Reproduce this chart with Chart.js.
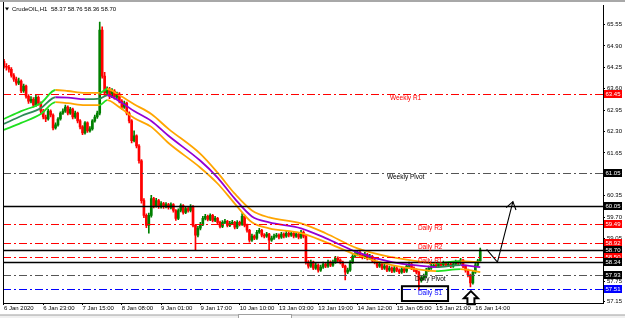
<!DOCTYPE html>
<html><head><meta charset="utf-8">
<script src="https://cdn.jsdelivr.net/npm/chart.js@4.4.1/dist/chart.umd.min.js"></script>
<style>html,body{margin:0;padding:0;background:#fff;overflow:hidden}</style>
</head><body>
<canvas id="c" width="625" height="318" style="display:block"></canvas>
<script>
// ---------- DATA ----------
const symbolName = "CrudeOIL,H1";
const opens = [
64.43,64.28,64.25,64.19,64.00,63.89,63.77,63.83,63.53,63.68,
63.37,63.22,63.28,63.10,63.34,63.16,62.92,62.74,62.68,62.92,
62.80,62.41,62.50,62.68,62.86,62.92,63.04,62.86,62.98,62.74,
62.86,62.62,62.44,62.26,62.56,62.32,62.38,62.62,62.74,62.86,
65.38,63.98,63.47,63.59,63.37,63.53,63.34,63.44,63.22,63.04,
63.16,62.86,62.62,62.02,62.17,61.86,61.41,60.20,59.75,59.45,
59.75,60.26,60.05,60.20,60.02,60.11,60.02,60.08,59.99,60.08,
59.90,59.66,59.90,60.05,59.84,59.96,59.90,60.02,59.45,59.15,
59.36,59.48,59.66,59.72,59.63,59.75,59.60,59.66,59.54,59.42,
59.54,59.57,59.45,59.51,59.54,59.39,59.54,59.48,59.72,59.45,
59.30,59.00,59.12,59.06,59.24,59.30,59.15,59.12,59.18,59.00,
59.06,59.12,59.15,59.09,59.18,59.12,59.21,59.15,59.21,59.12,
59.18,59.09,59.24,59.12,58.33,58.21,58.33,58.15,58.24,58.09,
58.18,58.27,58.21,58.33,58.24,58.33,58.45,58.39,58.33,58.21,
58.03,58.09,58.33,58.51,58.57,58.63,58.54,58.48,58.57,58.45,
58.51,58.39,58.33,58.21,58.27,58.15,58.21,58.09,58.15,58.06,
58.15,58.09,58.03,58.12,58.06,58.21,58.27,58.15,58.09,58.03,
57.79,57.85,57.91,58.09,58.15,58.21,58.24,58.21,58.27,58.24,
58.30,58.24,58.27,58.21,58.27,58.33,58.30,58.39,58.21,58.09,
57.94,57.70,58.03,58.24,58.37];
const highs = [
64.49,64.36,64.31,64.24,64.06,63.95,63.92,63.87,63.74,63.71,
63.42,63.36,63.33,63.41,63.38,63.20,62.97,62.80,62.98,62.96,
62.84,62.56,62.72,62.90,62.99,63.10,63.08,63.03,63.01,62.92,
62.89,62.66,62.48,62.60,62.59,62.45,62.66,62.80,62.92,65.62,
65.48,64.10,63.66,63.64,63.60,63.57,63.50,63.48,63.27,63.22,
63.19,62.90,62.66,62.32,62.20,61.90,61.45,60.26,59.80,59.82,
60.36,60.30,60.27,60.24,60.17,60.15,60.14,60.12,60.13,60.11,
59.93,59.95,60.10,60.08,60.02,60.00,60.08,60.05,59.48,59.42,
59.54,59.72,59.78,59.76,59.80,59.78,59.72,59.69,59.58,59.59,
59.63,59.60,59.57,59.60,59.57,59.59,59.58,59.81,59.75,59.49,
59.33,59.18,59.16,59.30,59.36,59.33,59.20,59.24,59.21,59.12,
59.18,59.21,59.19,59.24,59.22,59.27,59.25,59.27,59.25,59.24,
59.22,59.30,59.28,59.16,58.38,58.39,58.36,58.30,58.28,58.24,
58.33,58.31,58.39,58.37,58.39,58.51,58.49,58.43,58.36,58.24,
58.15,58.38,58.56,58.63,58.69,58.67,58.58,58.63,58.60,58.57,
58.54,58.43,58.36,58.33,58.30,58.27,58.24,58.21,58.19,58.21,
58.19,58.13,58.18,58.16,58.27,58.33,58.30,58.19,58.13,58.06,
57.91,57.97,58.14,58.21,58.27,58.30,58.28,58.33,58.30,58.36,
58.33,58.33,58.31,58.33,58.39,58.37,58.45,58.42,58.24,58.12,
57.97,58.08,58.30,58.42,58.76];
const lows = [
64.22,64.16,64.10,63.95,63.82,63.71,63.72,63.48,63.49,63.31,
63.15,63.17,63.04,63.06,63.10,62.86,62.68,62.60,62.64,62.74,
62.35,62.37,62.46,62.64,62.82,62.88,62.80,62.82,62.68,62.70,
62.56,62.38,62.20,62.22,62.27,62.28,62.34,62.58,62.70,62.80,
63.92,63.40,63.41,63.30,63.33,63.28,63.29,63.17,62.98,63.00,
62.80,62.56,61.95,61.98,61.80,61.34,60.12,59.68,59.38,59.21,
59.70,59.98,60.00,59.96,59.97,59.96,59.98,59.94,59.95,59.85,
59.60,59.62,59.86,59.79,59.80,59.85,59.86,59.40,58.69,59.10,
59.31,59.44,59.61,59.58,59.59,59.55,59.56,59.49,59.37,59.38,
59.50,59.40,59.41,59.47,59.34,59.35,59.43,59.45,59.40,59.24,
58.94,58.96,59.01,59.02,59.20,59.10,59.07,59.08,58.69,58.96,
59.02,59.08,59.04,59.05,59.07,59.08,59.10,59.11,59.07,59.08,
59.04,59.05,59.07,58.27,58.15,58.17,58.10,58.11,58.03,58.05,
58.14,58.16,58.17,58.19,58.20,58.29,58.34,58.28,58.16,57.79,
57.98,58.05,58.29,58.47,58.52,58.49,58.43,58.44,58.40,58.41,
58.34,58.28,58.16,58.17,58.10,58.11,58.04,58.05,58.01,58.02,
58.04,57.98,57.99,58.01,58.02,58.17,58.10,58.04,57.97,57.49,
57.72,57.80,57.87,58.05,58.11,58.17,58.16,58.17,58.19,58.20,
58.19,58.20,58.16,58.17,58.23,58.25,58.26,58.16,58.03,57.88,
57.58,57.66,57.99,58.20,58.36];
const closes = [
64.28,64.25,64.19,64.00,63.89,63.77,63.83,63.53,63.68,63.37,
63.22,63.28,63.10,63.34,63.16,62.92,62.74,62.68,62.92,62.80,
62.41,62.50,62.68,62.86,62.92,63.04,62.86,62.98,62.74,62.86,
62.62,62.44,62.26,62.56,62.32,62.38,62.62,62.74,62.86,65.38,
63.98,63.47,63.59,63.37,63.53,63.34,63.44,63.22,63.04,63.16,
62.86,62.62,62.02,62.17,61.86,61.41,60.20,59.75,59.45,59.75,
60.26,60.05,60.20,60.02,60.11,60.02,60.08,59.99,60.08,59.90,
59.66,59.90,60.05,59.84,59.96,59.90,60.02,59.45,59.15,59.36,
59.48,59.66,59.72,59.63,59.75,59.60,59.66,59.54,59.42,59.54,
59.57,59.45,59.51,59.54,59.39,59.54,59.48,59.72,59.45,59.30,
59.00,59.12,59.06,59.24,59.30,59.15,59.12,59.18,59.00,59.06,
59.12,59.15,59.09,59.18,59.12,59.21,59.15,59.21,59.12,59.18,
59.09,59.24,59.12,58.33,58.21,58.33,58.15,58.24,58.09,58.18,
58.27,58.21,58.33,58.24,58.33,58.45,58.39,58.33,58.21,58.03,
58.09,58.33,58.51,58.57,58.63,58.54,58.48,58.57,58.45,58.51,
58.39,58.33,58.21,58.27,58.15,58.21,58.09,58.15,58.06,58.15,
58.09,58.03,58.12,58.06,58.21,58.27,58.15,58.09,58.03,57.79,
57.85,57.91,58.09,58.15,58.21,58.24,58.21,58.27,58.24,58.30,
58.24,58.27,58.21,58.27,58.33,58.30,58.39,58.21,58.09,57.94,
57.70,58.03,58.24,58.37,58.70];

// moving average + envelope, read at sample bars
const maBars  = [0,7,15,21,26,33,39,42,47,53,60,67,80,87,94,101,108,121,131,144,158,171,176,186,194];
const maUpper = [62.68,62.92,63.16,63.56,63.53,63.47,63.47,63.59,63.40,63.13,62.83,62.38,61.62,61.05,60.41,59.90,59.69,59.51,59.21,58.75,58.48,58.33,58.30,58.36,58.33];
const maMid   = [62.53,62.77,63.01,63.34,63.33,63.28,63.30,63.40,63.22,62.92,62.62,62.17,61.41,60.90,60.26,59.72,59.54,59.36,59.06,58.63,58.33,58.21,58.18,58.24,58.18];
const maLower = [62.35,62.56,62.83,63.19,63.16,63.10,63.10,63.25,63.04,62.71,62.44,61.95,61.20,60.72,60.11,59.54,59.36,59.21,58.94,58.54,58.24,58.09,58.06,58.12,58.03];

// time axis
const xTickBars = [0,16,32,48,64,80,96,112,128,144,160,176,192];
const xTickLabels = ["6 Jan 2020","6 Jan 23:00","7 Jan 15:00","8 Jan 08:00","9 Jan 01:00","9 Jan 17:00","10 Jan 10:00","13 Jan 03:00","13 Jan 19:00","14 Jan 12:00","15 Jan 05:00","15 Jan 21:00","16 Jan 14:00"];
// price axis
const yTickValues = [65.55,64.90,64.25,63.60,62.95,62.30,61.65,61.00,60.35,59.70,59.05,58.40,57.75,57.15];

// horizontal levels
const levelPrices = [63.45,61.05,60.05,59.49,58.92,58.70,58.50,58.34,57.93,57.51];
const levelNames  = ["Weekly R1","Weekly Pivot","","Daily R3","Daily R2","","Daily R1","","Daily Pivot","Daily S1"];
const levelKinds  = ["res","piv","solid","res","res","solid","res","solid","piv","sup"];
const levelTextBars = [157.2,156.0,null,168.6,168.6,null,168.6,null,167.4,168.6];

// drawn annotations (data units: bar index, price)
const boxBars = [162.1,180.9], boxPrices = [57.60,57.15];
const upArrowBar = 190.2, upArrowPrice = 57.45;
const trendArrowBars = [196.6,201.0,207.3], trendArrowPrices = [58.72,58.33,60.17];

// ---------- STYLE ----------
const FONT = '"Liberation Sans", Arial, sans-serif';
const C = {bull:'#008000', bear:'#ff0000', bandUp:'#1fe01f', bandDown:'#ffa500', midUp:'#2e8b57', midDown:'#9400d3'};
const LV = {
  res:{color:'#ff0000', width:1, dash:[8,3,2,3], box:'#ff0000', text:'#ff0000'},
  piv:{color:'#555555', width:1, dash:[8,3,2,3], box:'#000000', text:'#000000'},
  solid:{color:'#000000', width:1.3, dash:[], box:'#000000', text:'#000000'},
  sup:{color:'#0000ff', width:1, dash:[8,3,2,3], box:'#0000ff', text:'#0000ff'}
};

const N = closes.length;
const candleColors = closes.map((c,i)=> c >= opens[i] ? C.bull : C.bear);
const wickData = closes.map((c,i)=>({x:i, y:[lows[i], highs[i]]}));
const bodyData = closes.map((c,i)=>({x:i, y:[opens[i], c]}));
const pts = arr => maBars.map((b,k)=>({x:b, y:arr[k]}));
const rising = s => s.p1.parsed.y > s.p0.parsed.y;

const overlay = {
  id:'overlay',
  afterDatasetsDraw(chart){
    const {ctx, chartArea:a, scales:{x, y}} = chart;
    ctx.save();
    ctx.beginPath(); ctx.rect(a.left, a.top, a.right-a.left, a.bottom-a.top); ctx.clip();
    levelPrices.forEach((p,i)=>{
      const st = LV[levelKinds[i]];
      const py = Math.round(y.getPixelForValue(p)) + 0.5;
      ctx.strokeStyle = st.color; ctx.lineWidth = st.width; ctx.setLineDash(st.dash);
      ctx.beginPath(); ctx.moveTo(a.left, py); ctx.lineTo(a.right, py); ctx.stroke();
    });
    ctx.setLineDash([]);
    // level names
    ctx.font = '6.5px ' + FONT; ctx.textBaseline = 'top'; ctx.textAlign = 'left';
    levelPrices.forEach((p,i)=>{
      if(!levelNames[i]) return;
      ctx.fillStyle = LV[levelKinds[i]].text;
      ctx.fillText(levelNames[i], x.getPixelForValue(levelTextBars[i]), y.getPixelForValue(p) + 1);
    });
    // box round Daily S1
    ctx.strokeStyle = '#000'; ctx.lineWidth = 2;
    const bx0 = x.getPixelForValue(boxBars[0]), bx1 = x.getPixelForValue(boxBars[1]);
    const by0 = y.getPixelForValue(boxPrices[0]), by1 = y.getPixelForValue(boxPrices[1]);
    ctx.strokeRect(bx0, by0, bx1-bx0, by1-by0);
    // trend arrow
    const tx = trendArrowBars.map(b=>x.getPixelForValue(b));
    const ty = trendArrowPrices.map(p=>y.getPixelForValue(p));
    ctx.lineWidth = 1.1; ctx.beginPath(); ctx.moveTo(tx[0], ty[0]);
    for(let k=1;k<tx.length;k++) ctx.lineTo(tx[k], ty[k]);
    ctx.stroke();
    const L = tx.length-1, ang = Math.atan2(ty[L]-ty[L-1], tx[L]-tx[L-1]);
    ctx.beginPath();
    ctx.moveTo(tx[L]-9*Math.cos(ang-0.6), ty[L]-9*Math.sin(ang-0.6));
    ctx.lineTo(tx[L], ty[L]);
    ctx.lineTo(tx[L]-9*Math.cos(ang+0.6), ty[L]-9*Math.sin(ang+0.6));
    ctx.stroke();
    ctx.restore();
  },
  afterDraw(chart){
    const {ctx, chartArea:a, scales:{x, y}} = chart;
    ctx.save();
    // window strips
    ctx.fillStyle = '#a8a8a8'; ctx.fillRect(0,0,625,2);
    ctx.fillStyle = '#f0f0f0'; ctx.fillRect(0,315,625,3);
    ctx.fillStyle = '#a0a0a0'; ctx.fillRect(0,314.5,625,1);
    ctx.fillStyle = '#ffffff'; ctx.fillRect(238,315,54,3);
    ctx.strokeStyle = '#a0a0a0'; ctx.lineWidth = 1; ctx.strokeRect(238.5,314.5,53,4);
    // left frame
    ctx.strokeStyle = '#000'; ctx.lineWidth = 1;
    ctx.beginPath(); ctx.moveTo(a.left+0.5, 2); ctx.lineTo(a.left+0.5, a.bottom); ctx.stroke();
    // price boxes on axis
    ctx.font = '6px ' + FONT; ctx.textBaseline = 'middle'; ctx.textAlign = 'left';
    levelPrices.forEach((p,i)=>{
      const st = LV[levelKinds[i]];
      const py = Math.round(y.getPixelForValue(p));
      ctx.fillStyle = st.box; ctx.fillRect(a.right+1, py-4, 18, 8);
      ctx.fillStyle = '#fff'; ctx.fillText(p.toFixed(2), a.right+2.5, py+0.5);
    });
    // up arrow (hollow)
    const ux = x.getPixelForValue(upArrowBar), uy = y.getPixelForValue(upArrowPrice);
    ctx.strokeStyle = '#000'; ctx.lineWidth = 2; ctx.beginPath();
    ctx.moveTo(ux, uy); ctx.lineTo(ux+7, uy+7); ctx.lineTo(ux+3.5, uy+7); ctx.lineTo(ux+3.5, uy+13);
    ctx.lineTo(ux-3.5, uy+13); ctx.lineTo(ux-3.5, uy+7); ctx.lineTo(ux-7, uy+7); ctx.closePath(); ctx.stroke();
    // header
    ctx.fillStyle = '#000'; ctx.beginPath(); ctx.moveTo(5,7.5); ctx.lineTo(9,7.5); ctx.lineTo(7,10.5); ctx.closePath(); ctx.fill();
    ctx.font = '6px ' + FONT; ctx.textBaseline = 'middle';
    ctx.fillText(symbolName, 12, 9.5);
    ctx.fillText([opens[N-1],highs[N-1],lows[N-1],closes[N-1]].map(v=>v.toFixed(2)).join(' '), 51, 9.5);
    ctx.restore();
  }
};

new Chart(document.getElementById('c'), {
  type:'bar',
  data:{datasets:[
    {type:'line', data:pts(maUpper), borderColor:C.bandDown, borderWidth:1.8, pointRadius:0, cubicInterpolationMode:'monotone', order:0,
     segment:{borderColor:s=>rising(s)?C.bandUp:C.bandDown}},
    {type:'line', data:pts(maMid), borderColor:C.midDown, borderWidth:1.8, pointRadius:0, cubicInterpolationMode:'monotone', order:0,
     segment:{borderColor:s=>rising(s)?C.midUp:C.midDown}},
    {type:'line', data:pts(maLower), borderColor:C.bandDown, borderWidth:1.8, pointRadius:0, cubicInterpolationMode:'monotone', order:0,
     segment:{borderColor:s=>rising(s)?C.bandUp:C.bandDown}},
    {type:'bar', data:bodyData, backgroundColor:candleColors, barThickness:2, grouped:false, minBarLength:1, order:1},
    {type:'bar', data:wickData, backgroundColor:candleColors, barThickness:1, grouped:false, order:2}
  ]},
  options:{
    responsive:false, animation:false, events:[],
    layout:{padding:{left:3, top:4, right:0, bottom:0}},
    plugins:{legend:{display:false}, tooltip:{enabled:false}},
    scales:{
      x:{type:'linear', min:-0.4, max:244.0, offset:false,
         afterFit:s=>{s.height=15;},
         afterBuildTicks:s=>{s.ticks = xTickBars.map(v=>({value:v}));},
         grid:{display:true, drawOnChartArea:false, tickLength:2, color:'#000', offset:false},
         border:{display:true, color:'#000', width:1},
         ticks:{autoSkip:false, maxRotation:0, minRotation:0, align:'start', padding:0, color:'#000',
                font:{size:6, family:FONT},
                callback:v=>{const k=xTickBars.indexOf(v); return k<0?'':xTickLabels[k];}}},
      y:{type:'linear', position:'right', min:57.09, max:66.124,
         afterFit:s=>{s.width=22;},
         afterBuildTicks:s=>{s.ticks = yTickValues.map(v=>({value:v}));},
         grid:{display:true, drawOnChartArea:false, tickLength:2, color:'#000'},
         border:{display:true, color:'#000', width:1},
         ticks:{autoSkip:false, padding:2, color:'#000', font:{size:6, family:FONT},
                callback:v=>Number(v).toFixed(2)}}
    }
  },
  plugins:[overlay]
});
</script>
</body></html>
